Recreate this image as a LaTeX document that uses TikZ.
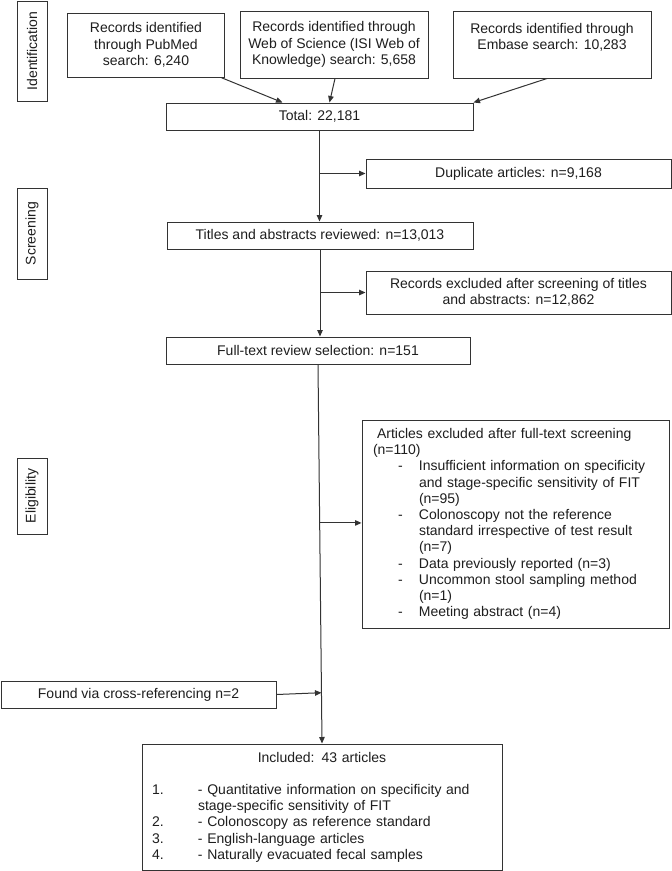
\documentclass[tikz,border=0pt]{standalone}
\usepackage{fontspec}
\setmainfont{Liberation Sans}
\usetikzlibrary{arrows.meta,calc}
\definecolor{lncol}{HTML}{333333}
\definecolor{txtcol}{HTML}{1E1E1E}
\begin{document}
\begin{tikzpicture}[x=1pt,y=1pt,
  every node/.style={font=\fontsize{14}{16.2}\selectfont, text=txtcol},
  box/.style={draw=lncol, line width=1pt, rectangle, inner sep=0pt, align=center},
  arr/.style={draw=lncol, line width=1pt, -{Triangle[length=6.5pt,width=5.5pt]}}]
\useasboundingbox (0,0) rectangle (672,-871);
\fill[white] (0,0) rectangle (672,-871);

% phase labels
\node[box, rotate=90, minimum width=100pt, minimum height=30pt] (idb) at (32,-51) {Identification};
\node[box, rotate=90, minimum width=91pt, minimum height=30pt] (scr) at (32,-233.5) {Screening};
\node[box, rotate=90, minimum width=76pt, minimum height=30pt] (eli) at (32,-496) {Eligibility};

% sources
\node[box, minimum width=157pt, minimum height=64pt] (pub) at (146,-45) {Records identified\\through PubMed\\search: 6,240};
\node[box, minimum width=188pt, minimum height=67pt] (wos) at (334,-44.5) {Records identified through\\Web of Science (ISI Web of\\Knowledge) search: 5,658};
\node[box, minimum width=198pt, minimum height=67pt] (emb) at (552,-44.5) {Records identified through\\Embase search: 10,283\\\mbox{}};

\node[box, minimum width=307pt, minimum height=27pt] (total) at (319.5,-116.5) {Total: 22,181};
\node[box, minimum width=305pt, minimum height=29pt] (dup) at (518.5,-173.5) {Duplicate articles: n=9,168};
\node[box, minimum width=306pt, minimum height=27pt] (titles) at (320,-235.5) {Titles and abstracts reviewed: n=13,013};
\node[box, minimum width=305pt, minimum height=43pt] (rec) at (518.5,-292.5) {Records excluded after screening of titles\\and abstracts: n=12,862};
\node[box, minimum width=304pt, minimum height=27pt] (full) at (318,-350.5) {Full-text review selection: n=151};

\node[box, align=left, text width=285pt, inner xsep=11pt, minimum height=208pt] (arts) at (515.5,-524) {%
\hspace*{4pt}Articles excluded after full-text screening\\
(n=110)\\
\hspace*{25pt}\makebox[21pt][l]{-}Insufficient information on specificity\\
\hspace*{46pt}and stage-specific sensitivity of FIT\\
\hspace*{46pt}(n=95)\\
\hspace*{25pt}\makebox[21pt][l]{-}Colonoscopy not the reference\\
\hspace*{46pt}standard irrespective of test result\\
\hspace*{46pt}(n=7)\\
\hspace*{25pt}\makebox[21pt][l]{-}Data previously reported (n=3)\\
\hspace*{25pt}\makebox[21pt][l]{-}Uncommon stool sampling method\\
\hspace*{46pt}(n=1)\\
\hspace*{25pt}\makebox[21pt][l]{-}Meeting abstract (n=4)};

\node[box, minimum width=275pt, minimum height=27pt] (found) at (138.5,-694.5) {Found via cross-referencing n=2};

\node[box, align=left, text width=340pt, inner xsep=10pt, minimum height=126pt] (incl) at (322,-807) {%
\makebox[340pt][c]{Included: 43 articles}\\[16.2pt]
\makebox[46pt][l]{1.}- Quantitative information on specificity and\\
\hspace*{46pt}stage-specific sensitivity of FIT\\
\makebox[46pt][l]{2.}- Colonoscopy as reference standard\\
\makebox[46pt][l]{3.}- English-language articles\\
\makebox[46pt][l]{4.}- Naturally evacuated fecal samples};

% connectors
\draw[arr] ([xshift=-4pt]pub.south east) -- ([xshift=117pt]total.north west);
\draw[arr] ([xshift=1pt]wos.south) -- ([xshift=164pt]total.north west);
\draw[arr] ([xshift=-5pt]emb.south) -- (total.north east);

\draw[arr] (total.south) -- (total.south |- titles.north);
\draw[arr] (total.south |- dup.west) -- (dup.west);
\draw[arr] (titles.south) -- (titles.south |- full.north);
\draw[arr] (titles.south |- rec.west) -- (rec.west);

\coordinate (b1) at ($(full.south)!0.418!(incl.north)$);
\coordinate (b2) at ($(full.south)!0.866!(incl.north)$);
\draw[arr] (full.south) -- (incl.north);
\draw[arr] (b1) -- (b1 -| arts.west);
\draw[arr] (found.east) -- (b2);
\end{tikzpicture}
\end{document}
